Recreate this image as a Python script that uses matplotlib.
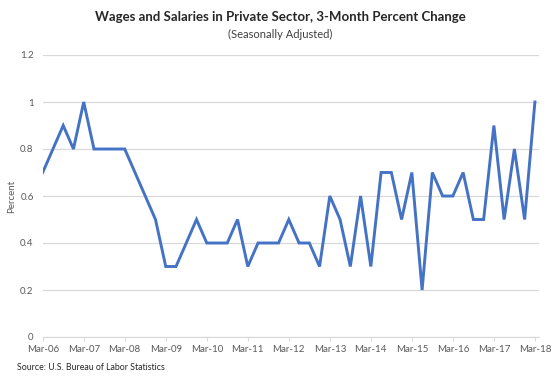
"""Wages and salaries in private sector, 3-month percent change"""

import matplotlib.pyplot as plt

# quarterly values, Mar-06 .. Mar-18
quarters = ['Mar-06', 'Jun-06', 'Sep-06', 'Dec-06',
            'Mar-07', 'Jun-07', 'Sep-07', 'Dec-07',
            'Mar-08', 'Jun-08', 'Sep-08', 'Dec-08',
            'Mar-09', 'Jun-09', 'Sep-09', 'Dec-09',
            'Mar-10', 'Jun-10', 'Sep-10', 'Dec-10',
            'Mar-11', 'Jun-11', 'Sep-11', 'Dec-11',
            'Mar-12', 'Jun-12', 'Sep-12', 'Dec-12',
            'Mar-13', 'Jun-13', 'Sep-13', 'Dec-13',
            'Mar-14', 'Jun-14', 'Sep-14', 'Dec-14',
            'Mar-15', 'Jun-15', 'Sep-15', 'Dec-15',
            'Mar-16', 'Jun-16', 'Sep-16', 'Dec-16',
            'Mar-17', 'Jun-17', 'Sep-17', 'Dec-17',
            'Mar-18']
pct_change = [0.7, 0.8, 0.9, 0.8,
              1.0, 0.8, 0.8, 0.8,
              0.8, 0.7, 0.6, 0.5,
              0.3, 0.3, 0.4, 0.5,
              0.4, 0.4, 0.4, 0.5,
              0.3, 0.4, 0.4, 0.4,
              0.5, 0.4, 0.4, 0.3,
              0.6, 0.5, 0.3, 0.6,
              0.3, 0.7, 0.7, 0.5,
              0.7, 0.2, 0.7, 0.6,
              0.6, 0.7, 0.5, 0.5,
              0.9, 0.5, 0.8, 0.5,
              1.0]
y_ticks = [0, 0.2, 0.4, 0.6, 0.8, 1, 1.2]
y_tick_labels = ['0', '0.2', '0.4', '0.6', '0.8', '1', '1.2']

plt.rcParams['font.family'] = ['Lato', 'DejaVu Sans']
text_color = '#595959'

W, H = 558, 382
fig = plt.figure(figsize=(W / 100, H / 100), dpi=100)
ax = fig.add_axes([42.7 / W, (H - 337) / H, (539 - 42.7) / W, (337 - 55) / H])

x = list(range(len(quarters)))
ax.plot(x, pct_change, color='#4472C4', lw=2.1, solid_joinstyle='miter')

ax.set_xlim(0, 48.4)
ax.set_ylim(0, 1.2)
ax.set_yticks(y_ticks)
ax.set_yticklabels(y_tick_labels)
ax.set_xticks(x[::4])
ax.set_xticklabels(quarters[::4])
ax.grid(axis='y', color='#D9D9D9', lw=0.9)
ax.set_axisbelow(True)
for s in ['top', 'right', 'left']:
    ax.spines[s].set_visible(False)
ax.spines['bottom'].set_color('#D9D9D9')
ax.tick_params(axis='y', length=0, pad=6.5, labelsize=7, labelcolor=text_color)
ax.tick_params(axis='x', length=3, color='#D9D9D9', pad=3, labelsize=7,
               labelcolor=text_color)

fig.text(12 / W, 1 - 196 / H, 'Percent', rotation=90, ha='center', va='center',
         fontsize=7, color=text_color)
fig.text(280 / W, 1 - 17 / H, 'Wages and Salaries in Private Sector, 3-Month Percent Change',
         ha='center', va='center', fontsize=9.5, fontweight='bold', color='#262626')
fig.text(280 / W, 1 - 34 / H, '(Seasonally Adjusted)',
         ha='center', va='center', fontsize=8, color='#404040')
fig.text(17 / W, 1 - 368 / H, 'Source: U.S. Bureau of Labor Statistics',
         ha='left', va='center', fontsize=6.3, color='#262626')

fig.savefig('out.png', dpi=100)
